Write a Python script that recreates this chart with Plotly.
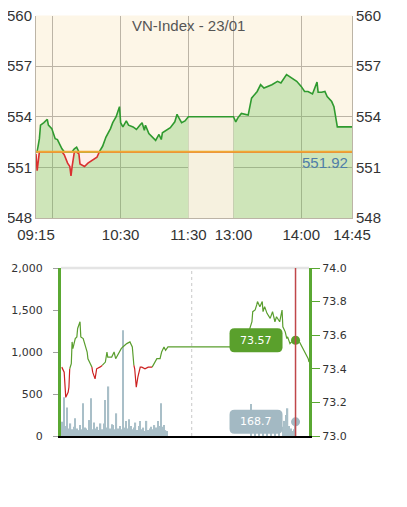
import numpy as np
import plotly.graph_objects as go

# --- top panel: VN-Index intraday, 23/01 ---
ref_close = 551.92
idx_times = [
    "09:15", "09:16", "09:18", "09:19", "09:22", "09:25", "09:26", "09:29", "09:32", "09:34",
    "09:38", "09:40", "09:43", "09:45", "09:46", "09:47", "09:49", "09:51", "09:53", "09:54",
    "09:58", "10:01", "10:05", "10:09", "10:11", "10:14", "10:17", "10:21", "10:23", "10:26",
    "10:28", "10:29", "10:30", "10:32", "10:35", "10:37", "10:41", "10:44", "10:47", "10:49",
    "10:51", "10:52", "10:55", "10:59", "11:01", "11:04", "11:06", "11:07", "11:11", "11:14",
    "11:18", "11:20", "11:21", "11:24", "11:27", "11:30",
    "13:00", "13:02", "13:04", "13:07", "13:13", "13:15", "13:16", "13:21", "13:24", "13:27",
    "13:31", "13:34", "13:39", "13:42", "13:47", "13:51", "13:56", "14:00", "14:03", "14:06",
    "14:10", "14:14", "14:15", "14:18", "14:21", "14:23", "14:27", "14:29", "14:31", "14:32",
    "14:45",
]
idx_values = [
    551.80, 550.80, 552.70, 553.50, 553.65, 553.85, 553.50, 553.30, 552.70, 552.65,
    552.10, 551.75, 551.25, 551.05, 550.50, 551.05, 552.10, 552.20, 551.80, 551.20,
    551.05, 551.25, 551.40, 551.60, 551.90, 552.25, 552.80, 553.30, 553.65, 554.00,
    554.50, 554.60, 553.65, 553.40, 553.75, 553.50, 553.40, 553.25, 553.50, 553.65,
    553.20, 553.50, 553.00, 552.70, 552.60, 552.95, 552.65, 553.05, 553.20, 553.35,
    553.70, 554.15, 554.00, 553.65, 553.75, 554.00,
    554.00, 553.70, 553.95, 554.20, 554.10, 554.65, 555.10, 555.50, 555.90, 555.70,
    555.80, 555.90, 556.10, 556.00, 556.50, 556.30, 556.10, 555.80, 555.50, 555.50,
    555.35, 556.05, 555.45, 555.45, 555.50, 555.20, 554.90, 554.60, 553.80, 553.40,
    553.40,
]
top_ticks = ["09:15", "09:30", "10:30", "11:30", "13:00", "14:00", "14:45"]
top_ticktext = ["09:15", "", "10:30", "11:30", "13:00", "14:00", "14:45"]
top_yticks = [548, 551, 554, 557, 560]

# --- bottom panel: line + volume ---
line_ref = 73.43
line_times = [
    "09:16", "09:19", "09:21", "09:24", "09:25", "09:26", "09:28", "09:29", "09:30", "09:33",
    "09:35", "09:36", "09:39", "09:40", "09:43", "09:48", "09:49", "09:52", "09:54", "09:55",
    "09:58", "10:00", "10:04", "10:07", "10:11", "10:13", "10:14", "10:19", "10:22", "10:24",
    "10:27", "10:31", "10:33", "10:38", "10:42", "10:45", "10:47", "10:48", "10:50", "10:52",
    "10:55", "10:57", "11:01", "11:05", "11:10", "11:12", "11:16", "11:20", "11:22", "11:25",
    "11:27", "11:30", "13:07", "13:12", "13:16", "13:17", "13:20", "13:22", "13:23", "13:26",
    "13:29", "13:30", "13:32", "13:35", "13:39", "13:42", "13:45", "13:47", "13:51", "13:54",
    "13:55", "13:58", "14:00", "14:01", "14:04", "14:06", "14:11", "14:16", "14:23", "14:27",
    "14:28",
]
line_values = [
    73.41, 73.38, 73.23, 73.26, 73.29, 73.40, 73.43, 73.56, 73.52, 73.58,
    73.59, 73.64, 73.68, 73.59, 73.58, 73.50, 73.46, 73.43, 73.41, 73.38,
    73.34, 73.40, 73.41, 73.42, 73.44, 73.50, 73.47, 73.47, 73.50, 73.46,
    73.49, 73.52, 73.53, 73.55, 73.56, 73.53, 73.42, 73.40, 73.29, 73.35,
    73.41, 73.41, 73.40, 73.41, 73.41, 73.43, 73.46, 73.46, 73.50, 73.53,
    73.51, 73.53, 73.53, 73.62, 73.68, 73.74, 73.75, 73.78, 73.80, 73.77,
    73.80, 73.74, 73.77, 73.73, 73.70, 73.74, 73.68, 73.71, 73.68, 73.75,
    73.65, 73.62, 73.58, 73.59, 73.55, 73.56, 73.57, 73.56, 73.50, 73.46,
    73.44,
]
vol_times = [
    "09:15", "09:17", "09:19", "09:21", "09:23", "09:25", "09:27", "09:29", "09:31", "09:33",
    "09:35", "09:37", "09:39", "09:41", "09:43", "09:45", "09:47", "09:49", "09:51", "09:53",
    "09:55", "09:57", "09:59", "10:01", "10:03", "10:05", "10:07", "10:09", "10:11", "10:13",
    "10:15", "10:17", "10:19", "10:21", "10:23", "10:25", "10:27", "10:29", "10:31", "10:33",
    "10:35", "10:37", "10:39", "10:41", "10:43", "10:45", "10:47", "10:49", "10:51", "10:53",
    "10:55", "10:57", "10:59", "11:01", "11:03", "11:05", "11:07", "11:09", "11:11", "11:13",
    "11:15", "11:17", "11:19", "11:21", "11:23", "11:25", "11:27", "11:29",
    "13:15", "13:20", "13:25", "13:30", "13:35", "13:40", "13:45", "13:50", "13:55", "13:57",
    "13:59", "14:01", "14:03", "14:05", "14:07", "14:09", "14:11",
]
vol_values = [
    100, 170, 460, 120, 340, 90, 150, 80, 110, 210,
    90, 70, 130, 80, 390, 100, 90, 70, 190, 450,
    80, 160, 90, 110, 70, 150, 80, 150, 430, 100,
    590, 90, 140, 130, 80, 270, 90, 120, 80, 1260,
    100, 180, 90, 200, 120, 80, 100, 160, 70, 120,
    180, 80, 100, 60, 180, 70, 90, 110, 80, 130,
    100, 180, 120, 390, 110, 130, 70, 60,
    380, 80, 70, 90, 60, 80, 70, 90, 110, 180,
    250, 330, 120, 90, 60, 80, 168.7,
]
cursor_time = "14:11"
cursor_price = 73.57
cursor_vol = 168.7
bottom_end = "14:28"

# page body adds an 8px margin, so lay out in window pixels minus that
W, H, OFF = 399, 499, 8


def fx(p):
    return (p - OFF) / W


def fy(p):
    return 1 - (p - OFF) / H


def minutes(s):
    h, m = s.split(":")
    return int(h) * 60 + int(m)


OPEN = minutes("09:15")
LUNCH_START = minutes("11:30")
LUNCH_END = minutes("13:00")
LUNCH_WIDTH = 40  # lunch break drawn compressed


def top_x(s):
    m = minutes(s)
    if m <= LUNCH_START:
        return m - OPEN
    return LUNCH_START - OPEN + LUNCH_WIDTH + (m - LUNCH_END)


def bot_x(s):
    return minutes(s) - OPEN


def split_by_threshold(x, y, thr):
    """Split a line into green/red pieces: a segment is red only if both ends are below thr."""
    g = ([], [])
    r = ([], [])
    last = None
    for i in range(len(x) - 1):
        red = y[i] < thr and y[i + 1] < thr
        tgt = r if red else g
        if last is not tgt:
            if tgt[0]:
                tgt[0].append(None)
                tgt[1].append(None)
            tgt[0].append(x[i])
            tgt[1].append(y[i])
        tgt[0].append(x[i + 1])
        tgt[1].append(y[i + 1])
        last = tgt
    return g, r


GREEN = "#2f9a2f"
RED = "#d93030"
BEIGE = "#fdf6e7"

fig = go.Figure()

# top panel
tx = np.array([top_x(t) for t in idx_times])
tv = np.array(idx_values)
am = tx <= top_x("11:30")
pm = tx >= top_x("13:00")
for mask in (am, pm):
    fig.add_trace(go.Scatter(x=tx[mask], y=tv[mask], mode="lines", line=dict(width=0),
                             fill="tozeroy", fillcolor="rgba(100,190,80,0.3)"))
fig.add_trace(go.Scatter(x=tx, y=[ref_close] * len(tx), mode="lines", line=dict(width=0)))
fig.add_trace(go.Scatter(x=tx, y=np.minimum(tv, ref_close), mode="lines", line=dict(width=0),
                         fill="tonexty", fillcolor="rgba(255,236,234,0.8)"))
fig.add_trace(go.Scatter(x=tx, y=np.maximum(tv, ref_close), mode="lines",
                         line=dict(color=GREEN, width=1.6)))
fig.add_trace(go.Scatter(x=tx, y=np.minimum(tv, ref_close), mode="lines",
                         line=dict(color=RED, width=1.6)))
fig.add_trace(go.Scatter(x=[tx.min(), tx.max()], y=[ref_close, ref_close], mode="lines",
                         line=dict(color="#f0a832", width=2)))
fig.add_trace(go.Scatter(x=[tx.min()], y=[ref_close], yaxis="y2", mode="markers",
                         marker=dict(opacity=0)))

# bottom panel
fig.add_trace(go.Bar(x=[bot_x(t) for t in vol_times], y=vol_values, width=1.6,
                     marker=dict(color="#a9bfc8", line=dict(width=0)),
                     xaxis="x2", yaxis="y3"))
bx = [bot_x(t) for t in line_times]
(gx, gy), (rx, ry) = split_by_threshold(bx, line_values, line_ref)
fig.add_trace(go.Scatter(x=gx, y=gy, mode="lines", line=dict(color="#5a9e2e", width=1.2),
                         xaxis="x2", yaxis="y4"))
fig.add_trace(go.Scatter(x=rx, y=ry, mode="lines", line=dict(color="#cc2020", width=1.2),
                         xaxis="x2", yaxis="y4"))
fig.add_trace(go.Scatter(x=[bot_x(cursor_time)], y=[cursor_vol], mode="markers",
                         marker=dict(color="#a3b9c3", size=9), xaxis="x2", yaxis="y3"))
fig.add_trace(go.Scatter(x=[bot_x(cursor_time)], y=[cursor_price], mode="markers",
                         marker=dict(color="#5aa02c", size=9), xaxis="x2", yaxis="y4"))

# shapes
box_path = ("M -61,12 L -18,12 Q -13,12 -13,7 L -13,-7 Q -13,-12 -18,-12 "
            "L -61,-12 Q -66,-12 -66,-7 L -66,7 Q -66,12 -61,12 Z")
shapes = [
    dict(type="rect", xref="x domain", yref="y domain", x0=0, x1=1, y0=0, y1=1,
         fillcolor=BEIGE, line=dict(width=0), layer="below"),
    dict(type="rect", xref="x", yref="y", x0=top_x("11:30"), x1=top_x("13:00"),
         y0=548, y1=tv[am][-1], fillcolor="#f6f1df", line=dict(width=0), layer="between"),
    dict(type="line", xref="x2", yref="y3 domain", x0=bot_x("12:00"), x1=bot_x("12:00"),
         y0=0, y1=1, line=dict(color="#c8c8c8", width=1, dash="dot"), layer="below"),
    dict(type="line", xref="x2 domain", yref="y3 domain", x0=0, x1=1, y0=1, y1=1,
         line=dict(color="#e4e4e4", width=2.5), layer="below"),
    dict(type="line", xref="x2", yref="y3 domain", x0=bot_x(cursor_time), x1=bot_x(cursor_time),
         y0=0, y1=1, line=dict(color="#c0474a", width=1.5)),
    dict(type="path", xref="x2", yref="y4", xsizemode="pixel", ysizemode="pixel",
         xanchor=bot_x(cursor_time), yanchor=cursor_price, path=box_path,
         fillcolor="#5aa02c", line=dict(width=0)),
    dict(type="path", xref="x2", yref="y3", xsizemode="pixel", ysizemode="pixel",
         xanchor=bot_x(cursor_time), yanchor=cursor_vol, path=box_path,
         fillcolor="#a3b9c3", line=dict(width=0)),
]

annotations = [
    dict(text="VN-Index - 23/01", xref="x", yref="paper", x=top_x("11:30"), y=fy(25),
         yanchor="middle", showarrow=False, font=dict(size=15, color="#555")),
    dict(text=f"{ref_close:.2f}", xref="x", yref="y", x=tx.max(), y=ref_close,
         xanchor="right", xshift=-2, yshift=-11, showarrow=False,
         font=dict(size=15, color="#4f7ea8")),
    dict(text=f"{cursor_price:.2f}", xref="x2", yref="y4", x=bot_x(cursor_time), y=cursor_price,
         xshift=-39.5, showarrow=False,
         font=dict(family="DejaVu Sans", size=11, color="white")),
    dict(text=f"{cursor_vol:.1f}", xref="x2", yref="y3", x=bot_x(cursor_time), y=cursor_vol,
         xshift=-39.5, showarrow=False,
         font=dict(family="DejaVu Sans", size=11, color="white")),
]

grid = "#bcb4a6"
small = dict(family="DejaVu Sans", size=11, color="#333")
fig.update_layout(
    width=W, height=H, margin=dict(l=0, r=0, t=0, b=0, autoexpand=False),
    paper_bgcolor="white", plot_bgcolor="white",
    showlegend=False, hovermode=False,
    font=dict(family="Liberation Sans, Arial, sans-serif", size=15, color="#333"),
    shapes=shapes, annotations=annotations,
    xaxis=dict(domain=[fx(36), fx(352)], anchor="y", range=[0, top_x("14:45")],
               tickvals=[top_x(t) for t in top_ticks], ticktext=top_ticktext,
               showgrid=True, gridcolor=grid, showline=True, linecolor=grid,
               zeroline=False, ticks="", ticklabelstandoff=3, automargin=False,
               ticklabeloverflow="allow"),
    yaxis=dict(domain=[fy(218), fy(15.5)], anchor="x", range=[548, 560],
               tickvals=top_yticks, showgrid=True, gridcolor=grid, automargin=False,
               showline=True, linecolor=grid, zeroline=False, ticks="",
               ticklabeloverflow="allow"),
    yaxis2=dict(overlaying="y", side="right", anchor="x", range=[548, 560],
                tickvals=top_yticks, showgrid=False, showline=True, linecolor=grid,
                zeroline=False, ticks="", automargin=False, ticklabeloverflow="allow"),
    xaxis2=dict(domain=[fx(61), fx(309)], anchor="y3", range=[0, bot_x(bottom_end)],
                showticklabels=False, showgrid=False, showline=True, linecolor="black",
                linewidth=1.5, zeroline=False, ticks="", automargin=False),
    yaxis3=dict(domain=[fy(436), fy(268)], anchor="x2", range=[0, 2000],
                dtick=500, tickformat=",", showgrid=False, zeroline=False,
                showline=True, linecolor="#5aa832", linewidth=3, automargin=False,
                ticks="outside", ticklen=5, tickcolor="#a0a0a0", tickfont=small,
                ticklabelstandoff=8, ticklabeloverflow="allow"),
    yaxis4=dict(overlaying="y3", side="right", anchor="x2", range=[73, 74],
                dtick=0.2, tickformat=".1f", showgrid=False, zeroline=False,
                showline=True, linecolor="#5aa832", linewidth=3, automargin=False,
                ticks="outside", ticklen=8, tickcolor="#5aa832", tickfont=small,
                ticklabeloverflow="allow"),
)

fig.write_html("out.html")
